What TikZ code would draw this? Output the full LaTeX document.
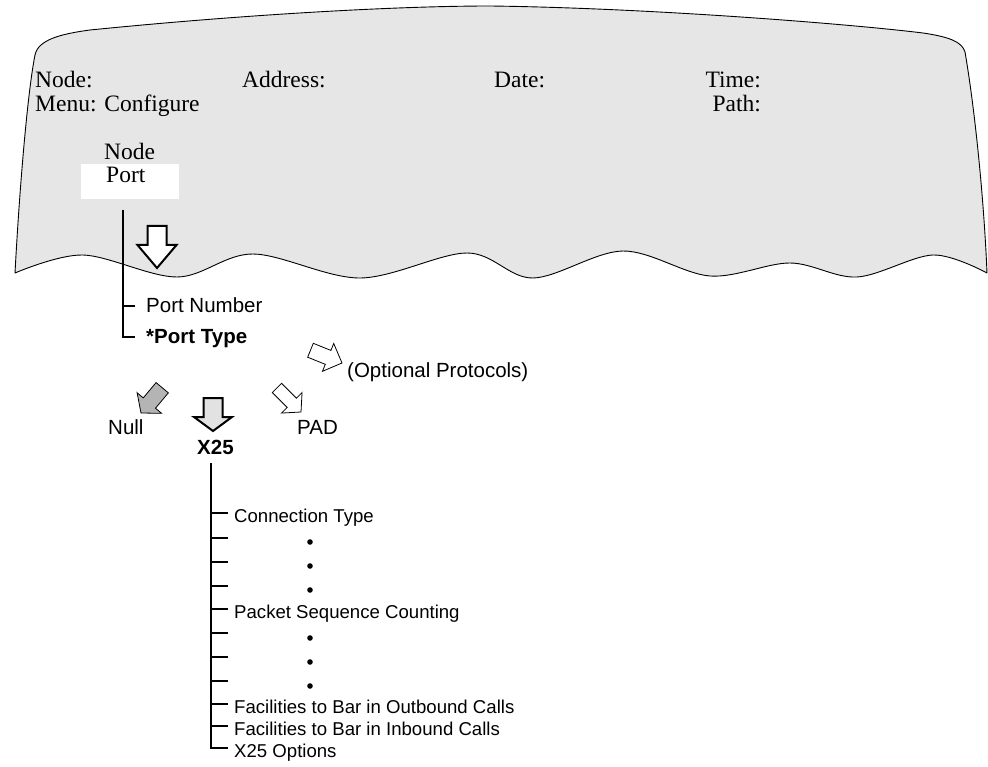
\documentclass[tikz,border=0pt]{standalone}
\usepackage{fontspec}
\setmainfont{Liberation Serif}
\newfontfamily\arialf{Liberation Sans}
\definecolor{screen}{HTML}{E6E6E6}
\definecolor{nullgray}{HTML}{B4B4B4}
\definecolor{xgray}{HTML}{E2E2E2}
\tikzset{
  pics/blockarrow/.style n args={4}{code={%
    \path[pic actions] (-#1,-#4) -- (#1,-#4) -- (#1,-#3) -- (#2,-#3) -- (0,0)
      -- (-#2,-#3) -- (-#1,-#3) -- cycle;}},
  serif/.style={font=\fontsize{23.5}{26}\selectfont, inner sep=0pt, anchor=base west},
  sansb/.style={font=\arialf\fontsize{20.5}{24}\selectfont, inner sep=0pt, anchor=base west},
  sanss/.style={font=\arialf\fontsize{18.6}{22}\selectfont, inner sep=0pt, anchor=base west},
  treeline/.style={line width=1.6pt},
  tick/.style={line width=1.4pt},
  dotmark/.style={fill=black, draw=none}
}
\begin{document}
\begin{tikzpicture}[x=1pt,y=-1pt]
\useasboundingbox (0,0) rectangle (988,767);

% screen shape
\draw[fill=screen, line width=0.9pt, line join=round]
  (15,273) .. controls (20,180) and (28,90) .. (35,55)
  .. controls (38,40) and (60,34) .. (90,30)
  .. controls (250,14) and (400,6) .. (490,6)
  .. controls (650,8) and (850,24) .. (923,33)
  .. controls (950,37) and (962,42) .. (965,52)
  .. controls (975,110) and (984,200) .. (987,273)
  -- plot[smooth, tension=0.55] coordinates {(987,273) (933,255) (857,277) (790,263) (710,276) (623,251) (533,278) (467,253) (360,278) (253,254) (177,277) (83,255) (15,273)}
  -- cycle;

% header texts
\node[serif] (node) at (35,88) {Node:};
\node[serif] (addr) at (242,88) {Address:};
\node[serif] (date) at (494,88) {Date:};
\node[serif, anchor=base east] (time) at (761,88) {Time:};
\node[serif] (menu) at (35,112) {Menu: Configure};
\node[serif, anchor=base east] (path) at (761,112) {Path:};

% menu items
\fill[white] (81,164) rectangle (179,199);
\node[serif] (mnode) at (104,160) {Node};
\node[serif] (mport) at (106,183) {Port};

% big down arrow
\pic[draw, fill=white, line width=2pt] at (157,268) {blockarrow={9.5}{19.5}{23}{42}};

% port tree
\coordinate (ptop) at (123,210);
\coordinate (pcorner) at (123,337);
\coordinate (pn) at (123,306);
\draw[treeline] (ptop) -- (pcorner) -- ++(12,0);
\draw[tick] (pn) -- ++(12,0);
\node[sansb] (portnum) at (146,313) {Port Number};
\node[sansb] (porttype) at (146,343) {\bfseries *Port Type};

% small arrows
\pic[draw, fill=white, line width=0.8pt, rotate=68] at (342,363) {blockarrow={7.5}{15}{15}{34}};
\node[sansb] (opt) at (347,377) {(Optional Protocols)};
\pic[draw, fill=nullgray, line width=0.8pt, rotate=-40] at (141,413) {blockarrow={8}{16}{13}{33}};
\node[sansb] (null) at (108,434) {Null};
\pic[draw, fill=xgray, line width=2pt] at (213,431) {blockarrow={9.5}{19}{14}{33}};
\node[sansb] (x25) at (197,454) {\bfseries X25};
\pic[draw, fill=white, line width=0.8pt, rotate=45] at (301,412) {blockarrow={6.5}{14.5}{13}{34}};
\node[sansb] (pad) at (297,434) {PAD};

% X25 tree
\coordinate (xtop) at (211,463);
\coordinate (xcorner) at (211,748);
\draw[treeline] (xtop) -- (xcorner) -- ++(17,0);
\foreach \yy in {513,538,562,586,609,633,657,681,704,726}{
  \draw[tick] (211,\yy) -- ++(17,0);
}
\node[sanss] (ct) at (234,522) {Connection Type};
\node[sanss] (psc) at (234,618) {Packet Sequence Counting};
\node[sanss] (fo) at (234,713) {Facilities to Bar in Outbound Calls};
\node[sanss] (fi) at (234,735) {Facilities to Bar in Inbound Calls};
\node[sanss] (xo) at (234,757) {X25 Options};
\foreach \yy in {542,566,590,638,662,686}{
  \fill[dotmark] (310,\yy) circle (2.8);
}
\end{tikzpicture}
\end{document}
